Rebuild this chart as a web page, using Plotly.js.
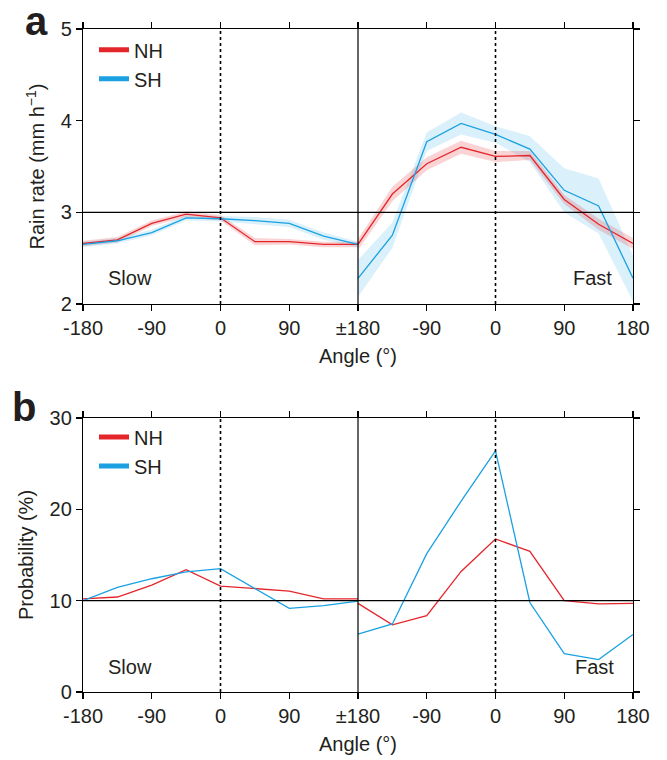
<!DOCTYPE html>
<html>
<head>
<meta charset="utf-8">
<script src="https://cdn.plot.ly/plotly-3.0.1.min.js"></script>
<style>html,body{margin:0;padding:0;background:#fff;}</style>
</head>
<body>
<div id="chart" style="width:667px;height:760px;"></div>
<script>
// Angles (degrees) for each half (slow / fast)
const angles = [-180, -135, -90, -45, 0, 45, 90, 135, 180];
const tickVals = [-180, -90, 0, 90, 180, 270, 360, 450, 540];
const tickText = ['-180', '-90', '0', '90', '\u00b1180', '-90', '0', '90', '180'];

// Panel a: rain rate (mm h-1)
const nhSlowRain = [2.66, 2.70, 2.88, 2.98, 2.94, 2.68, 2.68, 2.65, 2.65];
const shSlowRain = [2.65, 2.69, 2.78, 2.94, 2.93, 2.91, 2.88, 2.74, 2.65];
const nhFastRain = [2.65, 3.20, 3.53, 3.71, 3.61, 3.62, 3.14, 2.87, 2.66];
const shFastRain = [2.28, 2.75, 3.77, 3.97, 3.85, 3.69, 3.24, 3.07, 2.28];
const nhSlowErr = [0.03, 0.03, 0.03, 0.03, 0.03, 0.04, 0.03, 0.03, 0.03];
const shSlowErr = [0.03, 0.03, 0.03, 0.03, 0.03, 0.04, 0.04, 0.04, 0.03];
const nhFastErr = [0.06, 0.08, 0.07, 0.07, 0.06, 0.05, 0.05, 0.06, 0.06];
const shFastErr = [0.20, 0.14, 0.10, 0.12, 0.09, 0.14, 0.24, 0.30, 0.25];

// Panel b: probability (%)
const nhSlowProb = [10.2, 10.4, 11.7, 13.4, 11.6, 11.35, 11.05, 10.2, 10.2];
const shSlowProb = [10.0, 11.45, 12.4, 13.15, 13.5, 11.35, 9.15, 9.45, 9.95];
const nhFastProb = [9.7, 7.35, 8.35, 13.2, 16.75, 15.4, 10.0, 9.65, 9.7];
const shFastProb = [6.35, 7.45, 15.15, 20.9, 26.4, 9.8, 4.2, 3.55, 6.3];

const RED = '#e4262b';
const BLUE = '#1ba1e2';
const RED_BAND = 'rgba(228,38,43,0.2)';
const BLUE_BAND = 'rgba(27,161,226,0.16)';

const slowX = angles.slice();
const fastX = angles.map(a => a + 360);

function band(x, y, err, color, xa, ya) {
  const hi = y.map((v, i) => v + err[i]);
  const lo = y.map((v, i) => v - err[i]);
  return [
    {x: x, y: hi, xaxis: xa, yaxis: ya, mode: 'lines', line: {width: 0}, showlegend: false, hoverinfo: 'skip'},
    {x: x, y: lo, xaxis: xa, yaxis: ya, mode: 'lines', line: {width: 0}, fill: 'tonexty', fillcolor: color, showlegend: false, hoverinfo: 'skip'}
  ];
}
function line(x, y, color, xa, ya) {
  return {x: x, y: y, xaxis: xa, yaxis: ya, mode: 'lines', line: {color: color, width: 1.3}, showlegend: false};
}
function legendEntry(name, color, xa, ya, leg) {
  return {x: [null], y: [null], xaxis: xa, yaxis: ya, mode: 'lines', name: name, legend: leg,
          line: {color: color, width: 5}, showlegend: true};
}

const traces = [].concat(
  band(slowX, nhSlowRain, nhSlowErr, RED_BAND, 'x', 'y'),
  band(slowX, shSlowRain, shSlowErr, BLUE_BAND, 'x', 'y'),
  band(fastX, shFastRain, shFastErr, BLUE_BAND, 'x', 'y'),
  band(fastX, nhFastRain, nhFastErr, RED_BAND, 'x', 'y'),
  [
    line(slowX, nhSlowRain, RED, 'x', 'y'),
    line(slowX, shSlowRain, BLUE, 'x', 'y'),
    line(fastX, nhFastRain, RED, 'x', 'y'),
    line(fastX, shFastRain, BLUE, 'x', 'y'),
    line(slowX, nhSlowProb, RED, 'x2', 'y2'),
    line(slowX, shSlowProb, BLUE, 'x2', 'y2'),
    line(fastX, nhFastProb, RED, 'x2', 'y2'),
    line(fastX, shFastProb, BLUE, 'x2', 'y2'),
    legendEntry('NH', RED, 'x', 'y', 'legend'),
    legendEntry('SH', BLUE, 'x', 'y', 'legend'),
    legendEntry('NH', RED, 'x2', 'y2', 'legend2'),
    legendEntry('SH', BLUE, 'x2', 'y2', 'legend2')
  ]
);

const TXT = '#231f20';
const FONT = 'Liberation Sans, Arial, sans-serif';
const FS = 20;
const xCommon = {
  range: [-180, 540], tickvals: tickVals, ticktext: tickText,
  showline: true, linecolor: '#000', linewidth: 1.2, mirror: 'ticks',
  ticks: 'outside', ticklen: 6, tickwidth: 1.2, tickcolor: '#000',
  showgrid: false, zeroline: false, fixedrange: true,
  tickfont: {size: FS, color: TXT, family: FONT},
  title: {text: 'Angle (\u00b0)', font: {size: FS, color: TXT, family: FONT}, standoff: 10}
};
const yCommon = {
  showline: true, linecolor: '#000', linewidth: 1.2, mirror: 'ticks',
  ticks: 'outside', ticklen: 6, tickwidth: 1.2, tickcolor: '#000',
  showgrid: false, zeroline: false, fixedrange: true,
  tickfont: {size: FS, color: TXT, family: FONT}
};

function vline(x, xa, ya, dash) {
  return {type: 'line', xref: xa, yref: ya + ' domain', x0: x, x1: x, y0: 0, y1: 1,
          line: {color: '#000', width: dash ? 1.6 : 1.2, dash: dash || 'solid'}};
}
function hline(y, xa, ya) {
  return {type: 'line', xref: xa + ' domain', yref: ya, x0: 0, x1: 1, y0: y, y1: y,
          line: {color: '#000', width: 1.2}};
}
function label(text, xa, ya, x, y) {
  return {text: text, xref: xa, yref: ya, x: x, y: y, xanchor: 'center', yanchor: 'middle',
          showarrow: false, font: {size: FS, color: TXT, family: FONT}};
}

const layout = {
  width: 667, height: 760,
  margin: {l: 83, r: 34, t: 29, b: 68},
  paper_bgcolor: '#fff', plot_bgcolor: '#fff',
  font: {family: FONT, color: TXT, size: FS},
  xaxis: Object.assign({}, xCommon, {anchor: 'y', domain: [0, 1]}),
  yaxis: Object.assign({}, yCommon, {range: [2, 5], tickvals: [2, 3, 4, 5], domain: [0.5852, 1],
    title: {text: 'Rain rate (mm h<sup>\u22121</sup>)', font: {size: FS, color: TXT, family: FONT}, standoff: 10}}),
  xaxis2: Object.assign({}, xCommon, {anchor: 'y2', domain: [0, 1]}),
  yaxis2: Object.assign({}, yCommon, {range: [0, 30], tickvals: [0, 10, 20, 30], domain: [0, 0.4133],
    title: {text: 'Probability (%)', font: {size: FS, color: TXT, family: FONT}, standoff: 10}}),
  legend: {x: 0.02, y: 0.998, xref: 'paper', yref: 'paper', xanchor: 'left', yanchor: 'top', traceorder: 'normal',
           bgcolor: 'rgba(0,0,0,0)', font: {size: FS, color: TXT, family: FONT}},
  legend2: {x: 0.02, y: 0.414, xref: 'paper', yref: 'paper', xanchor: 'left', yanchor: 'top', traceorder: 'normal',
           bgcolor: 'rgba(0,0,0,0)', font: {size: FS, color: TXT, family: FONT}},
  shapes: [
    vline(180, 'x', 'y'), vline(0, 'x', 'y', 'dot'), vline(360, 'x', 'y', 'dot'), hline(3, 'x', 'y'),
    vline(180, 'x2', 'y2'), vline(0, 'x2', 'y2', 'dot'), vline(360, 'x2', 'y2', 'dot'), hline(10, 'x2', 'y2')
  ],
  annotations: [
    {text: '<b>a</b>', xref: 'paper', yref: 'paper', x: -0.084, y: 1.0, xanchor: 'center', yanchor: 'middle', showarrow: false, font: {size: 40, color: TXT, family: FONT}, yshift: 8},
    {text: '<b>b</b>', xref: 'paper', yref: 'paper', x: -0.107, y: 0.4133, xanchor: 'center', yanchor: 'middle', showarrow: false, font: {size: 40, color: TXT, family: FONT}, yshift: 11},
    label('Slow', 'x', 'y domain', -118, 0.095),
    label('Fast', 'x', 'y domain', 487, 0.095),
    label('Slow', 'x2', 'y2 domain', -118, 0.091),
    label('Fast', 'x2', 'y2 domain', 489, 0.091)
  ]
};

Plotly.newPlot('chart', traces, layout, {displayModeBar: false, staticPlot: true});
</script>
</body>
</html>
